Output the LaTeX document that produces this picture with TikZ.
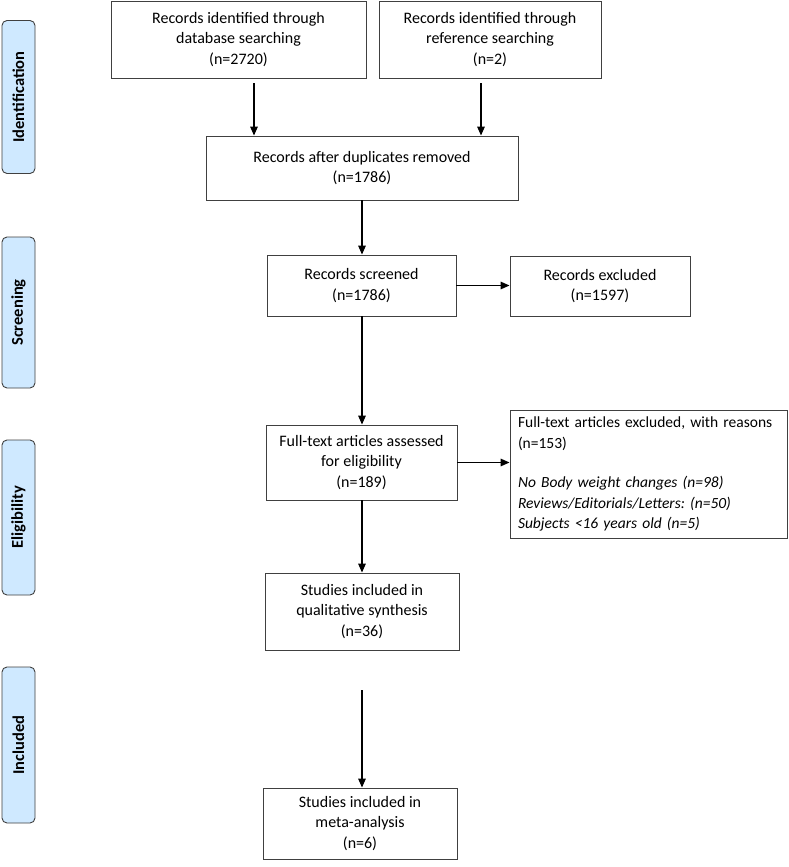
\documentclass[tikz,border=0pt]{standalone}
\usepackage{fontspec}
\setmainfont{Carlito}
\usetikzlibrary{arrows.meta}
\definecolor{phaseblue}{RGB}{207,233,255}
\definecolor{boxline}{RGB}{64,64,64}
\begin{document}
\begin{tikzpicture}[x=1pt,y=-1pt,
 box/.style={draw=boxline, line width=0.9pt, fill=white, align=center,
   font=\frenchspacing\fontsize{16}{20.5}\selectfont, inner sep=0pt},
 phase/.style={draw=boxline, line width=0.9pt, fill=phaseblue, rounded corners=5pt,
   rotate=90, font=\bfseries\fontsize{16.5}{18}\selectfont, inner sep=0pt, minimum height=33pt},
 arr/.style={-{Triangle[length=9pt,width=7.5pt]}, line width=1.5pt}]
\path[use as bounding box, fill=white] (0,0) rectangle (789,867);

% phase labels
\node[phase, minimum width=153pt] (pid) at (18.5,97) {Identification};
\node[phase, minimum width=151pt] (psc) at (18.5,312.5) {Screening};
\node[phase, minimum width=155pt] (pel) at (18.5,517.5) {Eligibility};
\node[phase, minimum width=156pt] (pin) at (18.5,745) {Included};

% boxes
\node[box, minimum width=255pt, minimum height=77pt] (b1) at (238.5,39.5)
  {Records identified through\\database searching\\(n=2720)};
\node[box, minimum width=222pt, minimum height=77pt] (b2) at (490,39.5)
  {Records identified through\\reference searching\\(n=2)};
\node[box, minimum width=312pt, minimum height=64pt] (b3) at (362,168)
  {Records after duplicates removed\\(n=1786)};
\node[box, minimum width=189pt, minimum height=61pt] (b4) at (361.5,285.5)
  {Records screened\\(n=1786)};
\node[box, minimum width=180pt, minimum height=60pt] (b5) at (600,286)
  {Records excluded\\(n=1597)};
\node[box, minimum width=191pt, minimum height=75pt] (b6) at (361.5,462.5)
  {Full-text articles assessed\\for eligibility\\(n=189)};
\node[box, align=left, text width=261pt, inner xsep=8pt, minimum height=128pt,
  font=\frenchspacing\fontsize{15.5}{20.5}\selectfont] (b7) at (648.5,474)
  {Full-text articles excluded, with reasons\\(n=153)\\[19pt]
   {\itshape No Body weight changes (n=98)}\\
   {\itshape Reviews/Editorials/Letters: (n=50)}\\
   {\itshape Subjects <16 years old (n=5)}};
\node[box, minimum width=194pt, minimum height=77pt] (b8) at (362,611.5)
  {Studies included in\\qualitative synthesis\\(n=36)};
\node[box, minimum width=194pt, minimum height=71pt] (b9) at (360,823.5)
  {Studies included in\\meta-analysis\\(n=6)};

% connectors
\coordinate (a1) at (254,0);
\coordinate (a2) at (481,0);
\coordinate (g) at (362,690);
\draw[arr, shorten <=5pt] (b1.south -| a1) -- (b3.north -| a1);
\draw[arr, shorten <=5pt] (b2.south -| a2) -- (b3.north -| a2);
\draw[arr] (b3.south) -- (b3.south |- b4.north);
\draw[arr] (b4.east) -- (b4.east -| b5.west);
\draw[arr] (b3.south |- b4.south) -- (b3.south |- b6.north);
\draw[arr] (b6.east) -- (b6.east -| b7.west);
\draw[arr] (b3.south |- b6.south) -- (b3.south |- b8.north);
\draw[arr] (g) -- (g |- b9.north);
\end{tikzpicture}
\end{document}
